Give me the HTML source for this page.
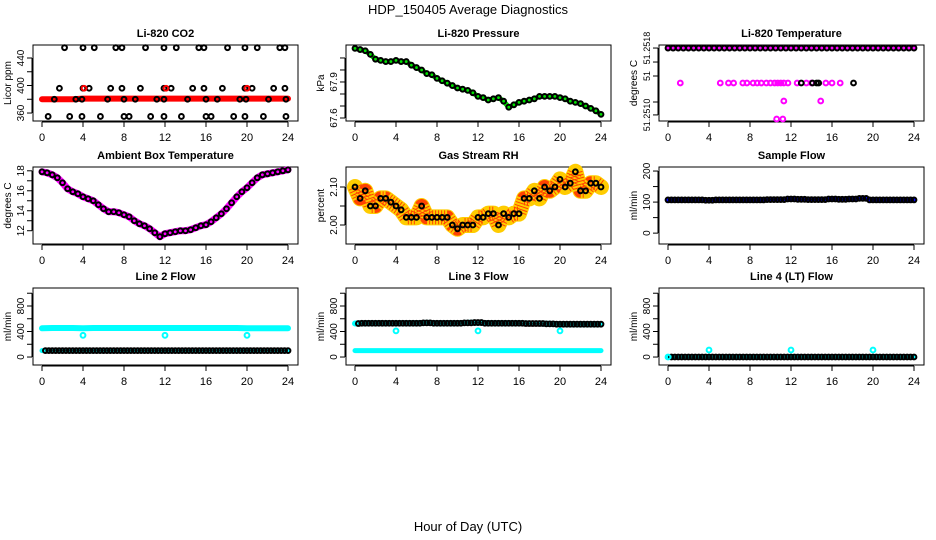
<!DOCTYPE html>
<html><head><meta charset="utf-8"><style>
html,body{margin:0;padding:0;background:#fff}
svg{display:block;font-family:"Liberation Sans",sans-serif}
</style></head><body>
<svg id="c" width="936" height="540" viewBox="0 0 936 540" xmlns="http://www.w3.org/2000/svg">
<text x="468" y="14" font-size="13" text-anchor="middle">HDP_150405  Average Diagnostics</text>
<text x="468" y="531" font-size="13" text-anchor="middle">Hour of Day (UTC)</text>
</svg>
<script>
// ---- data ----
const xTicks = [0,4,8,12,16,20,24];
// CO2 panel
const co2Band = [380,380,380,380,381,381,381,381,381,381,381,381,381,381,381,381,381,381,381,381,381,381,381,381,381];
const co2TopHours = [2.2,4.0,5.1,7.2,7.8,10.1,11.9,13.1,15.3,15.8,18.1,19.8,21.0,23.2,23.7];
const co2MidHours = [1.7,4.0,4.6,6.7,7.8,9.6,11.9,12.6,14.7,15.8,17.6,19.8,20.5,22.6,23.7];
const co2BandHours = [1.2,3.3,3.9,6.4,8.0,9.1,11.2,11.9,14.2,16.0,17.1,19.3,19.9,22.1,23.8];
const co2LowHours = [0.6,2.7,3.9,5.7,8.0,8.5,10.6,11.9,13.6,16.0,16.5,18.7,19.8,21.6,23.8];
const co2RedHours = [4.1,12.1,20.0];
const co2Levels = [455,396,380,355];
// Pressure (half-hourly)
const pressure = [68.18,68.17,68.16,68.13,68.09,68.08,68.07,68.07,68.08,68.07,68.07,68.04,68.02,68.00,67.97,67.96,67.93,67.91,67.89,67.87,67.85,67.84,67.83,67.81,67.78,67.77,67.75,67.76,67.77,67.74,67.69,67.71,67.73,67.74,67.75,67.76,67.78,67.78,67.78,67.78,67.77,67.76,67.74,67.73,67.72,67.70,67.68,67.66,67.63];
// Li-820 temperature (relative display levels)
const tempMagHours = [1.2,5.1,5.9,6.4,7.3,7.7,8.3,8.7,9.1,9.6,10.0,10.4,10.7,11.0,11.3,11.7,12.6,13.5,14.0,15.4,16.0,16.8];
const tempBlackHours = [13.0,14.1,14.5,14.7,18.1];
const tempLowHours = [11.3,14.9];
const tempBottomHours = [10.6,11.2];
const tempLevels = [0.96,0.5,0.263,0.026];
// Ambient box temperature (half-hourly)
const ambient = [17.9,17.8,17.6,17.3,16.8,16.2,15.9,15.7,15.4,15.2,15.0,14.6,14.2,13.9,13.9,13.8,13.6,13.4,13.0,12.7,12.5,12.2,11.8,11.4,11.7,11.8,11.9,12.0,12.0,12.1,12.3,12.5,12.6,12.9,13.3,13.7,14.2,14.8,15.4,15.9,16.3,16.8,17.3,17.6,17.7,17.8,17.9,18.0,18.1];
// Gas stream RH (half-hourly)
const rh = [2.10,2.07,2.09,2.05,2.05,2.07,2.07,2.06,2.05,2.04,2.02,2.02,2.02,2.05,2.02,2.02,2.02,2.02,2.02,2.00,1.99,2.00,2.00,2.00,2.02,2.02,2.03,2.03,2.00,2.03,2.02,2.03,2.03,2.07,2.07,2.09,2.07,2.10,2.09,2.10,2.12,2.10,2.11,2.14,2.09,2.09,2.11,2.11,2.10];
// Sample flow (hourly)
const sampleFlow = [107,107,107,107,106,107,107,107,107,107,108,108,110,109,108,108,110,109,110,112,107,107,107,107,107];
// Line flows (hourly)
const line2High = [450,455,455,455,452,455,455,455,455,455,455,455,455,455,455,455,455,455,455,455,450,450,450,450,450];
const line2Low = [100,100,100,100,100,100,100,100,100,100,100,100,100,100,100,100,100,100,100,100,100,100,100,100,100];
const line3High = [525,530,530,530,530,530,530,535,530,530,530,535,540,530,530,530,530,525,525,520,515,515,515,515,515];
const line3Low = [100,100,100,100,100,100,100,100,100,100,100,100,100,100,100,100,100,100,100,100,100,100,100,100,100];
const line4 = [0,0,0,0,0,0,0,0,0,0,0,0,0,0,0,0,0,0,0,0,0,0,0,0,0];
const outlierHours = [4,12,20];
const line2Outlier = 340, line3Outlier = 410, line4Outlier = 110;

// ---- layout ----
const NS = "http://www.w3.org/2000/svg";
const svg = document.getElementById('c');
function el(tag, attrs, parent){ const e=document.createElementNS(NS,tag); for(const k in attrs) e.setAttribute(k,attrs[k]); (parent||svg).appendChild(e); return e; }
const colL = [33,346,659], colW = 265;
const rowT = [45,167,288], rowB = [121,244,365];

function makePanel(name, col, row, ymin, ymax, yt, ylab, title, ylabel, labFont){
  const L=colL[col], R=L+colW, T=rowT[row], B=rowB[row];
  const g = el('g',{});
  
  
  const x = h => L+9 + h*(246/24);
  const y = v => B - (v-ymin)/(ymax-ymin)*(B-T);
  const t = el('text',{x:(L+R)/2,y:T-8,'font-size':11,'font-weight':'bold','text-anchor':'middle'},g);
  t.textContent = title;
  
  
  const box = el('rect',{x:L,y:T,width:colW,height:B-T,fill:'none',stroke:'#000','stroke-width':1},g);
  
  
  const xa = el('g',{},g);
  
  
  el('line',{x1:x(0),x2:x(24),y1:B+1,y2:B+1,stroke:'#000'},xa);
  xTicks.forEach(v=>{
    el('line',{x1:x(v),x2:x(v),y1:B+1,y2:B+6,stroke:'#000'},xa);
    const tx = el('text',{x:x(v),y:B+20,'font-size':11,'text-anchor':'middle'},xa);
    tx.textContent = v;
  });
  const ya = el('g',{},g);
  
  
  el('line',{x1:L-1,x2:L-1,y1:y(yt[0]),y2:y(yt[yt.length-1]),stroke:'#000'},ya);
  yt.forEach((v,i)=>{
    el('line',{x1:L-1,x2:L-6,y1:y(v),y2:y(v),stroke:'#000'},ya);
    if(ylab[i]!==''){
      const tx = el('text',{x:L-9,y:y(v),'font-size':labFont||10,'text-anchor':'middle',transform:`rotate(-90 ${L-9} ${y(v)})`},ya);
      tx.textContent = ylab[i];
    }
  });
  const yl = el('text',{x:L-22,y:(T+B)/2,'font-size':10,'text-anchor':'middle',transform:`rotate(-90 ${L-22} ${(T+B)/2})`},g);
  yl.textContent = ylabel;
  
  
  const d = el('g',{},g);
  
  
  return {x,y,d};
}
function band(p, vals, color, w, extra){
  const pts = vals.map((v,i)=>p.x(i*24/(vals.length-1)).toFixed(1)+','+p.y(v).toFixed(1)).join(' ');
  const a = {points:pts,fill:'none',stroke:color,'stroke-width':w,'stroke-linejoin':'round','stroke-linecap':'round'};
  if(extra) Object.assign(a,extra);
  const e = el('polyline',a,p.d);
  
  
}
function circ(p, h, v, color, sw){
  const e = el('circle',{cx:p.x(h),cy:p.y(v),r:2.4,fill:'none',stroke:color,'stroke-width':sw||2},p.d);
  
  
}
function seriesCircles(p, vals, color){ vals.forEach((v,i)=>circ(p,i*24/(vals.length-1),v,color)); }

// Panel 1: CO2
let p = makePanel('co2',0,0,348.4,458.9,[360,380,400,420,440],['360','','400','','440'],'Li-820 CO2','Licor ppm');
band(p, co2Band, '#ff0000', 6);
co2TopHours.forEach(h=>circ(p,h,co2Levels[0],'#000'));
co2MidHours.forEach(h=>circ(p,h,co2Levels[1],'#000'));
co2BandHours.forEach(h=>circ(p,h,co2Levels[2],'#000'));
co2LowHours.forEach(h=>circ(p,h,co2Levels[3],'#000'));
co2RedHours.forEach(h=>circ(p,h,co2Levels[1],'#ff0000'));

// Panel 2: Pressure
p = makePanel('pressure',1,0,67.575,68.208,[67.6,67.7,67.8,67.9,68.0,68.1],['67.6','','','67.9','',''],'Li-820 Pressure','kPa');
band(p, pressure, '#00e000', 5);
seriesCircles(p, pressure, '#000');

// Panel 3: Li-820 temperature
p = makePanel('li820-temp',2,0,0,1,[0.08,0.25,0.592,0.776,0.96],['51.2510','','51','','51.2518'],'Li-820 Temperature','degrees C',9);
band(p, [0.96,0.96], '#ff00ff', 5);
for(let i=0;i<=48;i++) circ(p, i*0.5, tempLevels[0], '#000');
tempMagHours.forEach(h=>circ(p,h,tempLevels[1],'#ff00ff'));
tempBlackHours.forEach(h=>circ(p,h,tempLevels[1],'#000'));
tempLowHours.forEach(h=>circ(p,h,tempLevels[2],'#ff00ff'));
tempBottomHours.forEach(h=>circ(p,h,tempLevels[3],'#ff00ff'));

// Panel 4: Ambient box temperature
p = makePanel('ambient-temp',0,1,10.67,18.38,[12,13,14,15,16,17,18],['12','','14','','16','','18'],'Ambient Box Temperature','degrees C');
band(p, ambient, '#ff00ff', 7);
seriesCircles(p, ambient, '#000');

// Panel 5: Gas stream RH
p = makePanel('gas-rh',1,1,1.95,2.1526,[2.00,2.05,2.10],['2.00','','2.10'],'Gas Stream RH','percent');
band(p, rh, '#ffcc00', 16);
band(p, rh, '#ff2000', 14, {'stroke-dasharray':'1 2','stroke-opacity':'0.8','stroke-linecap':'butt'});
seriesCircles(p, rh, '#000');

// Panel 6: Sample flow
p = makePanel('sample-flow',2,1,-35,213,[0,50,100,150,200],['0','','100','','200'],'Sample Flow','ml/min');
band(p, sampleFlow, '#0000ff', 5);
for(let i=0;i<=72;i++) circ(p, i/3, sampleFlow[Math.round(i/3)], '#000');

// Panel 7: Line 2 flow
p = makePanel('line2-flow',0,2,-125,1082,[0,200,400,600,800,1000],['0','','400','','800',''],'Line 2 Flow','ml/min');
band(p, line2High, '#00ffff', 6);
band(p, line2Low, '#00ffff', 5);
for(let i=1;i<=72;i++) circ(p, i/3, line2Low[Math.round(i/3)], '#000');
outlierHours.forEach(h=>circ(p,h,line2Outlier,'#00ffff'));

// Panel 8: Line 3 flow
p = makePanel('line3-flow',1,2,-125,1082,[0,200,400,600,800,1000],['0','','400','','800',''],'Line 3 Flow','ml/min');
band(p, line3High, '#00ffff', 6);
band(p, line3Low, '#00ffff', 5);
for(let i=1;i<=72;i++) circ(p, i/3, line3High[Math.round(i/3)], '#000');
outlierHours.forEach(h=>circ(p,h,line3Outlier,'#00ffff'));

// Panel 9: Line 4 flow
p = makePanel('line4-flow',2,2,-125,1082,[0,200,400,600,800,1000],['0','','400','','800',''],'Line 4 (LT) Flow','ml/min');
band(p, line4, '#00ffff', 4);
for(let i=1;i<=72;i++) circ(p, i/3, line4[Math.round(i/3)], '#000');
circ(p, 0, 0, '#00ffff');
outlierHours.forEach(h=>circ(p,h,line4Outlier,'#00ffff'));
</script>
</body></html>
